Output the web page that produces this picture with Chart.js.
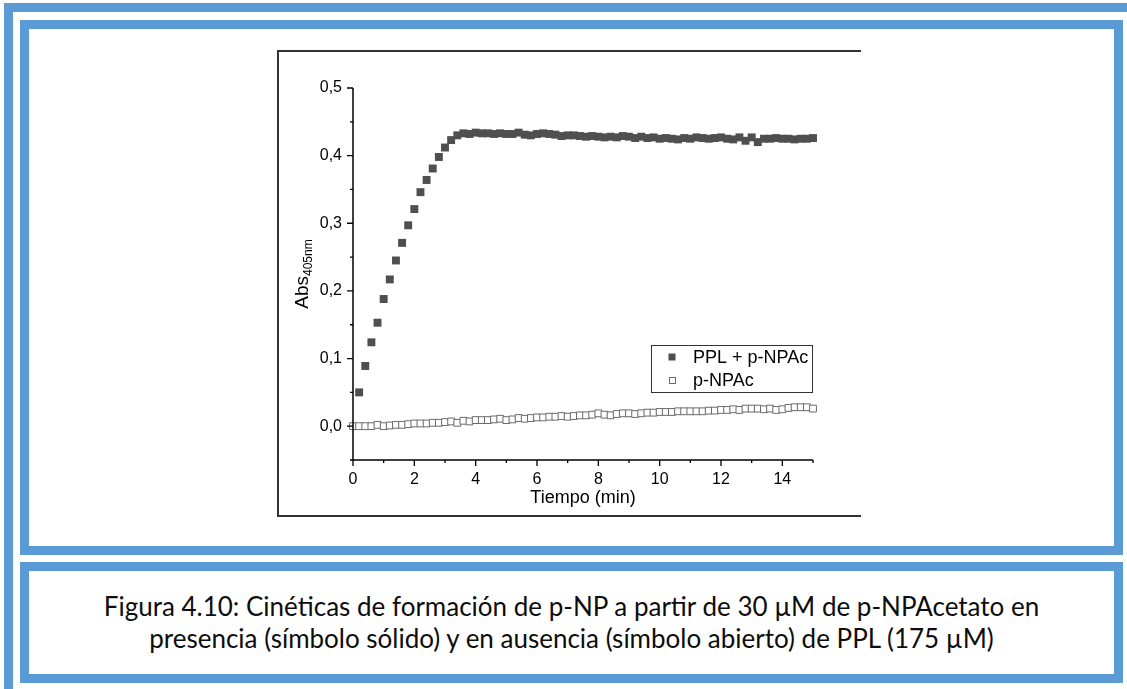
<!DOCTYPE html>
<html><head><meta charset="utf-8">
<script src="https://cdn.jsdelivr.net/npm/chart.js@4"></script>
<style>
html,body{margin:0;padding:0;background:#fff;width:1127px;height:689px;overflow:hidden;position:relative;}
.outer{position:absolute;left:4px;top:3px;width:1300px;height:900px;border-top:9px solid #5b9bd5;border-left:9px solid #5b9bd5;box-sizing:border-box;}
.box{position:absolute;border:9px solid #5b9bd5;box-sizing:border-box;background:#fff;}
#chartbox{left:20px;top:20px;width:1103px;height:535px;}
#capbox{left:20px;top:562px;width:1103px;height:121px;}
#frame{position:absolute;left:277px;top:50px;width:584px;height:467px;border-top:2px solid #333;border-left:2px solid #333;border-bottom:2px solid #333;box-sizing:border-box;}
#cv{position:absolute;left:277px;top:50px;}
#caption{position:absolute;left:29px;top:590px;width:1085px;text-align:center;font-family:Lato,'Open Sans',sans-serif;font-size:26px;line-height:32px;color:#0d0d0d;white-space:nowrap;}
</style>
</head><body>
<div class="outer"></div>
<div class="box" id="chartbox"></div>
<div class="box" id="capbox"></div>
<div id="frame"></div>
<canvas id="cv" width="584" height="467"></canvas>
<div id="caption">Figura 4.10: Cinéticas de formación de p-NP a partir de 30 µM de p-NPAcetato en<br>presencia (símbolo sólido) y en ausencia (símbolo abierto) de PPL (175 µM)</div>
<script>
// ---- data ----
const timeFilled = [0.2,0.4,0.6,0.8,1.0,1.2,1.4,1.6,1.8,2.0,2.2,2.4,2.6,2.8,3.0,3.2,3.4,3.6,3.8,4.0,
  4.2,4.4,4.6,4.8,5.0,5.2,5.4,5.6,5.8,6.0,6.2,6.4,6.6,6.8,7.0,7.2,7.4,7.6,7.8,8.0,
  8.2,8.4,8.6,8.8,9.0,9.2,9.4,9.6,9.8,10.0,10.2,10.4,10.6,10.8,11.0,11.2,11.4,11.6,11.8,12.0,
  12.2,12.4,12.6,12.8,13.0,13.2,13.4,13.6,13.8,14.0,14.2,14.4,14.6,14.8,15.0];
const absPPL = [0.050,0.089,0.124,0.153,0.188,0.217,0.245,0.271,0.297,0.321,0.346,0.364,0.381,0.398,0.412,0.423,0.430,0.433,0.432,0.434,
  0.433,0.433,0.432,0.433,0.432,0.432,0.434,0.431,0.430,0.432,0.433,0.432,0.431,0.429,0.430,0.430,0.429,0.428,0.429,0.428,
  0.427,0.428,0.427,0.429,0.428,0.426,0.428,0.426,0.427,0.425,0.426,0.425,0.424,0.426,0.425,0.427,0.426,0.425,0.426,0.427,
  0.425,0.424,0.427,0.422,0.427,0.420,0.425,0.425,0.426,0.425,0.425,0.424,0.425,0.425,0.426];
const timeOpen = [0.0,0.2,0.4,0.6,0.8,1.0,1.2,1.4,1.6,1.8,2.0,2.2,2.4,2.6,2.8,3.0,3.2,3.4,3.6,3.8,
  4.0,4.2,4.4,4.6,4.8,5.0,5.2,5.4,5.6,5.8,6.0,6.2,6.4,6.6,6.8,7.0,7.2,7.4,7.6,7.8,
  8.0,8.2,8.4,8.6,8.8,9.0,9.2,9.4,9.6,9.8,10.0,10.2,10.4,10.6,10.8,11.0,11.2,11.4,11.6,11.8,
  12.0,12.2,12.4,12.6,12.8,13.0,13.2,13.4,13.6,13.8,14.0,14.2,14.4,14.6,14.8,15.0];
const absBlank = [0.000,0.000,0.000,0.000,0.002,0.000,0.001,0.002,0.002,0.003,0.004,0.004,0.004,0.005,0.005,0.006,0.007,0.005,0.008,0.007,
  0.009,0.009,0.009,0.010,0.011,0.009,0.010,0.012,0.011,0.012,0.013,0.013,0.014,0.014,0.015,0.014,0.015,0.016,0.016,0.017,
  0.019,0.017,0.016,0.018,0.019,0.019,0.018,0.019,0.020,0.020,0.021,0.021,0.021,0.022,0.022,0.022,0.022,0.022,0.023,0.023,
  0.024,0.024,0.025,0.024,0.026,0.026,0.026,0.025,0.026,0.024,0.025,0.027,0.028,0.028,0.028,0.026];
const seriesNames = ['PPL + p-NPAc','p-NPAc'];
const xMajor = [0,2,4,6,8,10,12,14];
const xMinor = [1,3,5,7,9,11,13,15];
const yMajor = [0.0,0.1,0.2,0.3,0.4,0.5];
const yMinor = [-0.05,0.05,0.15,0.25,0.35,0.45];
const xTitle = 'Tiempo (min)';
const yTitleMain = 'Abs';
const yTitleSub = '405nm';

const FONT = "'Liberation Sans', Arial, sans-serif";
const FILL = '#4f4f4f';
const OPEN = '#6a6a6a';

const decoPlugin = {
  id: 'deco',
  afterDatasetsDraw(chart) {
    const ctx = chart.ctx, xs = chart.scales.x, ys = chart.scales.y;
    const a = chart.chartArea;
    ctx.save();
    ctx.strokeStyle = '#000';
    ctx.lineWidth = 1.5;
    ctx.beginPath();
    ctx.moveTo(a.left, a.top); ctx.lineTo(a.left, a.bottom); ctx.lineTo(a.right, a.bottom);
    ctx.stroke();
    ctx.lineWidth = 1.3;
    ctx.beginPath();
    yMajor.forEach(v => { const y = ys.getPixelForValue(v); ctx.moveTo(a.left, y); ctx.lineTo(a.left - 6, y); });
    yMinor.forEach(v => { const y = ys.getPixelForValue(v); ctx.moveTo(a.left, y); ctx.lineTo(a.left - 3, y); });
    xMajor.forEach(v => { const x = xs.getPixelForValue(v); ctx.moveTo(x, a.bottom); ctx.lineTo(x, a.bottom + 6); });
    xMinor.forEach(v => { const x = xs.getPixelForValue(v); ctx.moveTo(x, a.bottom); ctx.lineTo(x, a.bottom + 3); });
    ctx.stroke();
    // x title
    ctx.fillStyle = '#000';
    ctx.font = '18px ' + FONT;
    ctx.textAlign = 'center';
    ctx.textBaseline = 'alphabetic';
    ctx.fillText(xTitle, (a.left + a.right) / 2, a.bottom + 43);
    // y title with subscript
    ctx.save();
    ctx.font = '19px ' + FONT;
    const w1 = ctx.measureText(yTitleMain).width;
    ctx.font = '12px ' + FONT;
    const w2 = ctx.measureText(yTitleSub).width;
    ctx.translate(a.left - 45, (a.top + a.bottom) / 2);
    ctx.rotate(-Math.PI / 2);
    ctx.textAlign = 'left';
    ctx.font = '19px ' + FONT;
    ctx.fillText(yTitleMain, -(w1 + w2) / 2, 0);
    ctx.font = '12px ' + FONT;
    ctx.fillText(yTitleSub, -(w1 + w2) / 2 + w1, 4);
    ctx.restore();
    // legend
    const lx = a.right - 162, ly = 295, lw = 161, lh = 47;
    ctx.fillStyle = '#fff';
    ctx.fillRect(lx, ly, lw, lh);
    ctx.strokeStyle = '#333';
    ctx.lineWidth = 1;
    ctx.strokeRect(lx + 0.5, ly + 0.5, lw, lh);
    const ds = chart.data.datasets;
    const rows = [ly + 12, ly + 35];
    ds.forEach((d, i) => {
      const cy = rows[i], cx = lx + 21;
      if (i === 0) { ctx.fillStyle = d.backgroundColor; ctx.fillRect(cx - 3.5, cy - 3.5, 7, 7); }
      else { ctx.fillStyle = '#fff'; ctx.fillRect(cx - 3, cy - 3, 6, 6); ctx.strokeStyle = d.borderColor; ctx.strokeRect(cx - 3 + 0.5, cy - 3 + 0.5, 6, 6); }
      ctx.fillStyle = '#000';
      ctx.font = '18px ' + FONT;
      ctx.textAlign = 'left';
      ctx.textBaseline = 'middle';
      ctx.fillText(d.label, lx + 42, cy + 1);
    });
    ctx.restore();
  }
};

new Chart(document.getElementById('cv'), {
  type: 'scatter',
  data: {
    datasets: [
      { label: seriesNames[0], data: timeFilled.map((t, i) => ({x: t, y: absPPL[i]})),
        pointStyle: 'rect', pointRadius: 5.6, pointHoverRadius: 5.6, backgroundColor: FILL, borderColor: FILL, borderWidth: 0, clip: false, order: 1 },
      { label: seriesNames[1], data: timeOpen.map((t, i) => ({x: t, y: absBlank[i]})),
        pointStyle: 'rect', pointRadius: 4.8, pointHoverRadius: 4.8, backgroundColor: '#fff', borderColor: OPEN, borderWidth: 1, clip: false, order: 2 }
    ]
  },
  options: {
    responsive: false, animation: false, devicePixelRatio: 1,
    layout: { padding: { left: 0, top: 38, right: 48, bottom: 0 } },
    plugins: { legend: { display: false }, tooltip: { enabled: false } },
    scales: {
      x: { type: 'linear', min: 0, max: 15,
        grid: { display: false, drawTicks: false }, border: { display: false },
        afterBuildTicks: s => { s.ticks = xMajor.map(v => ({ value: v })); },
        ticks: { color: '#000', font: { family: FONT, size: 16 }, padding: 10, maxRotation: 0, autoSkip: false },
        afterFit: s => { s.height = 57; } },
      y: { type: 'linear', min: -0.05, max: 0.5,
        grid: { display: false, drawTicks: false }, border: { display: false },
        afterBuildTicks: s => { s.ticks = yMajor.map(v => ({ value: v })); },
        ticks: { color: '#000', font: { family: FONT, size: 16 }, padding: 11, autoSkip: false,
          callback: v => v.toFixed(1).replace('.', ',') },
        afterFit: s => { s.width = 76; } }
    }
  },
  plugins: [decoPlugin]
});
</script>
</body></html>
